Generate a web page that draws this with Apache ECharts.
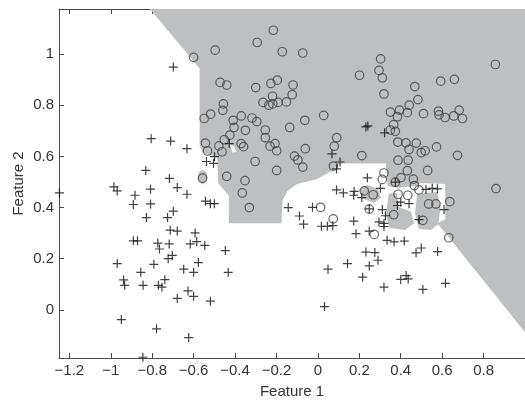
<!DOCTYPE html>
<html>
<head>
<meta charset="utf-8">
<script src="https://cdn.jsdelivr.net/npm/echarts@6/dist/echarts.min.js"></script>
<style>html,body{margin:0;padding:0;background:#fff}#c{width:525px;height:404px}</style>
</head>
<body>
<div id="c"></div>
<script>
// Tick labels
const xTicks = [-1.2, -1, -0.8, -0.6, -0.4, -0.2, 0, 0.2, 0.4, 0.6, 0.8];
const yTicks = [0, 0.2, 0.4, 0.6, 0.8, 1];

// Class 1 (circles)
const circlePts = [
[-0.600,0.987],[-0.496,1.015],[-0.293,1.045],[-0.472,0.889],[-0.440,0.879],[-0.300,0.869],
[-0.456,0.805],[-0.459,0.780],[-0.549,0.748],[-0.518,0.765],[-0.409,0.741],[-0.370,0.758],
[-0.318,0.750],[-0.295,0.736],[-0.405,0.713],[-0.350,0.702],[-0.425,0.683],[-0.452,0.665],
[-0.543,0.652],[-0.478,0.641],[-0.371,0.650],[-0.359,0.638],[-0.533,0.621],[-0.463,0.618],
[-0.303,0.580],[-0.557,0.515],[-0.440,0.522],[-0.352,0.505],[-0.365,0.457],[-0.331,0.400],
[-0.215,1.093],[-0.172,1.009],[-0.073,1.004],[0.303,0.981],[0.295,0.936],[0.311,0.907],
[0.201,0.917],[0.319,0.844],[0.468,0.873],[0.593,0.894],[0.659,0.901],[0.857,0.959],
[0.483,0.822],[0.441,0.800],[0.432,0.771],[0.394,0.781],[0.350,0.773],[0.384,0.755],
[0.510,0.767],[0.582,0.777],[0.585,0.762],[0.614,0.752],[0.656,0.758],[0.682,0.781],
[0.698,0.748],[-0.227,0.885],[-0.196,0.898],[-0.120,0.879],[-0.219,0.835],[-0.124,0.841],
[-0.265,0.811],[-0.237,0.800],[-0.218,0.805],[-0.192,0.811],[-0.152,0.813],[-0.254,0.703],
[-0.254,0.673],[-0.231,0.640],[-0.207,0.650],[-0.199,0.622],[-0.136,0.713],[-0.063,0.741],
[0.028,0.760],[-0.199,0.545],[-0.113,0.601],[-0.097,0.586],[-0.073,0.558],[-0.061,0.630],
[0.091,0.673],[0.079,0.640],[0.075,0.562],[0.212,0.603],[0.366,0.724],[0.350,0.703],
[0.374,0.698],[0.386,0.656],[0.425,0.653],[0.440,0.627],[0.475,0.652],[0.499,0.615],
[0.518,0.622],[0.573,0.637],[0.674,0.604],[0.387,0.585],[0.436,0.585],[0.432,0.544],
[0.530,0.545],[0.319,0.535],[0.311,0.510],[0.267,0.450],[0.401,0.517],[0.461,0.511],
[0.488,0.469],[0.466,0.486],[0.387,0.452],[0.434,0.448],[0.860,0.474],[0.224,0.465],
[0.374,0.499],[0.013,0.401],[0.074,0.356],[0.272,0.295],[0.248,0.394],[0.366,0.372],
[0.507,0.350],[0.535,0.414],[0.570,0.414],[0.637,0.423],[0.632,0.282]
];

// Class 2 (plus signs)
const plusPts = [
[-0.698,0.949],[-0.805,0.669],[-0.711,0.660],[-0.632,0.630],[-0.428,0.650],[-0.538,0.580],
[-0.504,0.573],[-0.499,0.599],[-0.831,0.545],[-0.717,0.514],[-0.679,0.478],[-0.985,0.481],
[-0.969,0.465],[-0.808,0.472],[-0.883,0.448],[-0.632,0.452],[-0.891,0.412],[-0.808,0.414],
[-0.828,0.361],[-0.726,0.361],[-0.698,0.386],[-0.713,0.312],[-0.679,0.308],[-0.891,0.270],
[-0.871,0.270],[-0.773,0.261],[-0.718,0.258],[-0.765,0.238],[-0.616,0.258],[-0.593,0.301],
[-0.585,0.267],[-0.546,0.252],[-0.447,0.232],[-0.969,0.181],[-0.792,0.178],[-0.723,0.200],
[-0.703,0.213],[-0.648,0.159],[-0.577,0.185],[-0.600,0.147],[-0.855,0.147],[-0.938,0.117],
[-0.933,0.096],[-0.844,0.096],[-0.739,0.118],[-0.770,0.096],[-0.753,0.089],[-0.433,0.147],
[-0.679,0.045],[-0.627,0.074],[-0.600,0.053],[-0.519,0.034],[-0.949,-0.038],[-0.779,-0.074],
[-0.624,-0.108],[-0.845,-0.185],[-0.543,0.425],[-0.519,0.415],[-0.500,0.415],[-1.248,0.457],
[-0.143,0.400],[-0.089,0.367],[-0.069,0.335],[-0.026,0.401],[0.017,0.327],[0.046,0.327],
[0.072,0.329],[0.173,0.347],[0.184,0.298],[0.248,0.308],[0.248,0.395],[0.311,0.392],
[0.295,0.344],[0.319,0.338],[0.326,0.368],[0.319,0.326],[0.334,0.272],[0.368,0.266],
[0.417,0.269],[0.384,0.408],[0.400,0.421],[0.440,0.415],[0.488,0.353],[0.609,0.392],
[0.474,0.223],[0.499,0.242],[0.578,0.228],[0.232,0.226],[0.275,0.224],[0.290,0.194],
[0.248,0.172],[0.143,0.181],[0.049,0.159],[0.216,0.128],[0.319,0.089],[0.400,0.119],
[0.426,0.134],[0.436,0.121],[0.507,0.080],[0.616,0.104],[0.032,0.013],[0.232,0.715],
[0.241,0.719],[0.322,0.692],[0.068,0.610],[0.107,0.578],[0.090,0.551],[0.239,0.516],
[0.302,0.475],[0.090,0.469],[0.123,0.457],[0.175,0.463],[0.173,0.448],[0.212,0.439],
[0.522,0.471],[0.552,0.475],[0.577,0.473],[0.374,0.499]
];

// Decision region (grey) outlines
const regionMain = [
[-0.811,1.176],[1.0,1.176],[1.0,-0.087],[0.577,0.339],[0.615,0.354],[0.615,0.492],
[0.497,0.496],[0.474,0.484],[0.380,0.477],[0.337,0.484],[0.328,0.572],[0.107,0.572],
[0.060,0.541],[-0.006,0.511],[-0.100,0.492],[-0.147,0.465],[-0.171,0.428],[-0.176,0.339],
[-0.430,0.339],[-0.430,0.446],[-0.481,0.496],[-0.486,0.599],[-0.528,0.606],[-0.557,0.614],
[-0.571,0.645],[-0.571,0.943]
];
const regionBlob1 = [[-0.557,0.547],[-0.538,0.538],[-0.533,0.519],[-0.538,0.500],[-0.557,0.490],[-0.576,0.500],[-0.578,0.519],[-0.576,0.538]];
const regionBlob2 = [[0.342,0.454],[0.380,0.458],[0.394,0.400],[0.450,0.385],[0.464,0.339],[0.422,0.312],[0.347,0.320],[0.328,0.370]];
const regionBlob3 = [[0.479,0.454],[0.577,0.461],[0.592,0.400],[0.582,0.335],[0.545,0.312],[0.488,0.316],[0.469,0.377]];
const regionBlob4 = [[0.201,0.473],[0.239,0.488],[0.290,0.473],[0.304,0.438],[0.271,0.419],[0.215,0.435]];
const whiteGap = [[-0.425,0.645],[-0.406,0.641],[-0.392,0.618],[-0.411,0.614]];

const GREY = '#bebfc1';
const regions = [
  {pts: regionMain, fill: GREY},
  {pts: regionBlob1, fill: GREY},
  {pts: regionBlob2, fill: GREY},
  {pts: regionBlob3, fill: GREY},
  {pts: regionBlob4, fill: GREY},
  {pts: whiteGap, fill: '#ffffff'}
];

const FONT = 'Liberation Sans';
const fmt = v => { const s = (Math.round(v * 10) / 10).toString(); return s.replace('-', '\u2212'); };
const axisLineStyle = {color: '#4a4a4a', width: 1};

const chart = echarts.init(document.getElementById('c'), null, {renderer: 'canvas'});
chart.setOption({
  animation: false,
  backgroundColor: '#ffffff',
  grid: {left: 59, top: 9, right: -12, bottom: 38, containLabel: false},
  xAxis: [{
    type: 'value', min: -1.25, max: 1.0, position: 'bottom',
    name: 'Feature 1', nameLocation: 'middle', nameGap: 26, nameMoveOverlap: false,
    nameTextStyle: {fontFamily: FONT, fontSize: 15, color: '#333'},
    splitLine: {show: false},
    axisLine: {show: true, onZero: false, lineStyle: axisLineStyle},
    axisTick: {show: true, inside: true, length: 5, lineStyle: axisLineStyle, customValues: xTicks},
    axisLabel: {show: true, margin: 5, fontFamily: FONT, fontSize: 15, color: '#333', customValues: xTicks, formatter: fmt}
  }, {
    type: 'value', min: -1.25, max: 1.0, position: 'top',
    splitLine: {show: false},
    axisLine: {show: true, onZero: false, lineStyle: axisLineStyle},
    axisTick: {show: true, inside: true, length: 5, lineStyle: axisLineStyle, customValues: xTicks},
    axisLabel: {show: false}
  }],
  yAxis: [{
    type: 'value', min: -0.188, max: 1.176, position: 'left',
    name: 'Feature 2', nameLocation: 'middle', nameGap: 33, nameRotate: 90, nameMoveOverlap: false,
    nameTextStyle: {fontFamily: FONT, fontSize: 15, color: '#333'},
    splitLine: {show: false},
    axisLine: {show: true, onZero: false, lineStyle: axisLineStyle},
    axisTick: {show: true, inside: true, length: 5, lineStyle: axisLineStyle, customValues: yTicks},
    axisLabel: {show: true, margin: 5, fontFamily: FONT, fontSize: 15, color: '#333', customValues: yTicks, formatter: fmt}
  }],
  series: [{
    type: 'custom',
    coordinateSystem: 'cartesian2d',
    xAxisIndex: 0, yAxisIndex: 0,
    silent: true,
    clip: true,
    z: 1,
    data: regions.map(r => r.pts[0]),
    renderItem: function (params, api) {
      const r = regions[params.dataIndex];
      return {
        type: 'polygon',
        shape: {points: r.pts.map(p => api.coord(p))},
        style: {fill: r.fill, stroke: null}
      };
    }
  }, {
    type: 'scatter',
    xAxisIndex: 0, yAxisIndex: 0,
    silent: true,
    z: 3,
    symbol: 'circle',
    symbolSize: 8.5,
    itemStyle: {color: 'rgba(0,0,0,0)', borderColor: '#404040', borderWidth: 1.2},
    data: circlePts
  }, {
    type: 'scatter',
    xAxisIndex: 0, yAxisIndex: 0,
    silent: true,
    z: 4,
    symbol: 'path://M5,0L5,10M0,5L10,5',
    symbolSize: 9,
    itemStyle: {color: 'rgba(0,0,0,0)', borderColor: '#111111', borderWidth: 1.2},
    data: plusPts
  }]
});
</script>
</body>
</html>
